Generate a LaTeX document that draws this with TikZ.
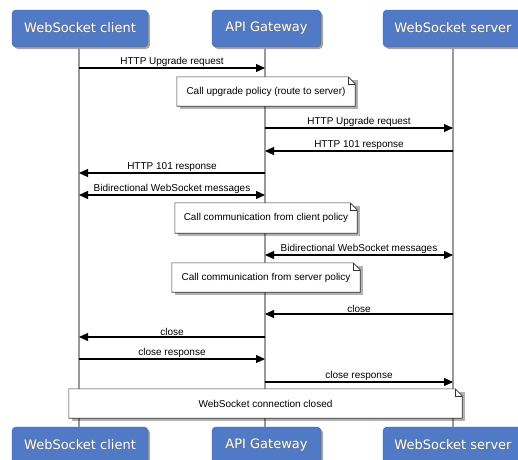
\documentclass[tikz,border=0pt]{standalone}
\usepackage{fontspec}
\setmainfont{Liberation Sans}
\newfontfamily\boxfont{DejaVu Sans}
\usetikzlibrary{arrows.meta,calc,shadows}
\definecolor{partblue}{HTML}{5079C6}
\definecolor{lifegray}{HTML}{9A9A9A}
\newcommand{\shtext}[1]{\makebox[0pt][l]{\hspace{0.9pt}\raisebox{-0.9pt}{\textcolor{black!55}{#1}}}#1}
\tikzset{
  part/.style={rounded corners=4pt, fill=partblue, draw=partblue!80!black, line width=0.4pt,
    text=white, font=\boxfont\fontsize{13}{15}\selectfont,
    drop shadow={shadow xshift=2pt, shadow yshift=-2pt, opacity=0.35, fill=black}},
  life/.style={draw=lifegray, line width=1.3pt},
  msg/.style={draw=black, line width=1.1pt, -{Triangle[length=9pt,width=8pt]}},
  bimsg/.style={draw=black, line width=1.1pt, {Triangle[length=9pt,width=8pt]}-{Triangle[length=9pt,width=8pt]}},
  lbl/.style={font=\fontsize{10}{12}\selectfont, inner sep=1pt, above},
  notetext/.style={font=\fontsize{10}{12}\selectfont, inner sep=0pt},
  noteline/.style={draw=black!80, line width=0.6pt, fill=white},
}
\newcommand{\mynote}[6]{%
  \node[notetext, minimum width=#4, minimum height=#5] (#1) at (#2,#3) {#6};
  \fill[black, opacity=0.3] ($(#1.north west)+(3,3)$) rectangle ($(#1.south east)+(3,3)$);
  \path[noteline] (#1.north west) -- ($(#1.north east)+(-7,0)$) -- ($(#1.north east)+(0,7)$)
     -- (#1.south east) -- (#1.south west) -- cycle;
  \draw[black!80, line width=0.5pt] ($(#1.north east)+(-7,0)$) -- ($(#1.north east)+(-7,7)$) -- ($(#1.north east)+(0,7)$);
  \node[notetext] at (#1) {#6};
}
\begin{document}
\begin{tikzpicture}[x=1pt,y=-1pt]
\useasboundingbox (0,0) rectangle (518,459);
\clip (0,0) rectangle (518,459);
% participants
\node[part, minimum width=136, minimum height=37] (ct) at (80,28.5) {\shtext{WebSocket client}};
\node[part, minimum width=109, minimum height=37] (gt) at (266.5,28.5) {\shtext{API Gateway}};
\node[part, minimum width=140, minimum height=37] (st) at (453,28.5) {\shtext{WebSocket server}};
\node[part, minimum width=136, minimum height=37] (cb) at (80,445.5) {\shtext{WebSocket client}};
\node[part, minimum width=109, minimum height=37] (gb) at (266.5,445.5) {\shtext{API Gateway}};
\node[part, minimum width=140, minimum height=37] (sb) at (453,445.5) {\shtext{WebSocket server}};
% lifelines
\coordinate (cl0) at (79,47); \coordinate (cl1) at (79,427);
\coordinate (gl0) at (265,47); \coordinate (gl1) at (265,427);
\coordinate (sl0) at (453,47); \coordinate (sl1) at (453,427);
\draw[life] (cl0) -- (cl1);
\draw[life] (gl0) -- (gl1);
\draw[life] (sl0) -- (sl1);
% message points
\foreach \n/\y in {1/68,3/128,4/151,5/173,6/195,8/255,10/314,11/337,12/359,13/382}{
  \coordinate (c\n) at (79,\y);
  \coordinate (g\n) at (265,\y);
  \coordinate (s\n) at (453,\y);
}
\draw[msg] (c1) -- node[lbl]{HTTP Upgrade request} (g1);
\mynote{n1}{266}{91.5}{178}{29}{Call upgrade policy (route to server)}
\draw[msg] (g3) -- node[lbl]{HTTP Upgrade request} (s3);
\draw[msg] (s4) -- node[lbl]{HTTP 101 response} (g4);
\draw[msg] (g5) -- node[lbl]{HTTP 101 response} (c5);
\draw[bimsg] (c6) -- node[lbl]{Bidirectional WebSocket messages} (g6);
\mynote{n2}{266}{218}{182}{30}{Call communication from client policy}
\draw[bimsg] (g8) -- node[lbl]{Bidirectional WebSocket messages} (s8);
\mynote{n3}{266}{277.5}{188}{29}{Call communication from server policy}
\draw[msg] (s10) -- node[lbl]{close} (g10);
\draw[msg] (g11) -- node[lbl]{close} (c11);
\draw[msg] (c12) -- node[lbl]{close response} (g12);
\draw[msg] (g13) -- node[lbl]{close response} (s13);
\mynote{n4}{265.5}{403.5}{393}{29}{WebSocket connection closed}
\end{tikzpicture}
\end{document}
